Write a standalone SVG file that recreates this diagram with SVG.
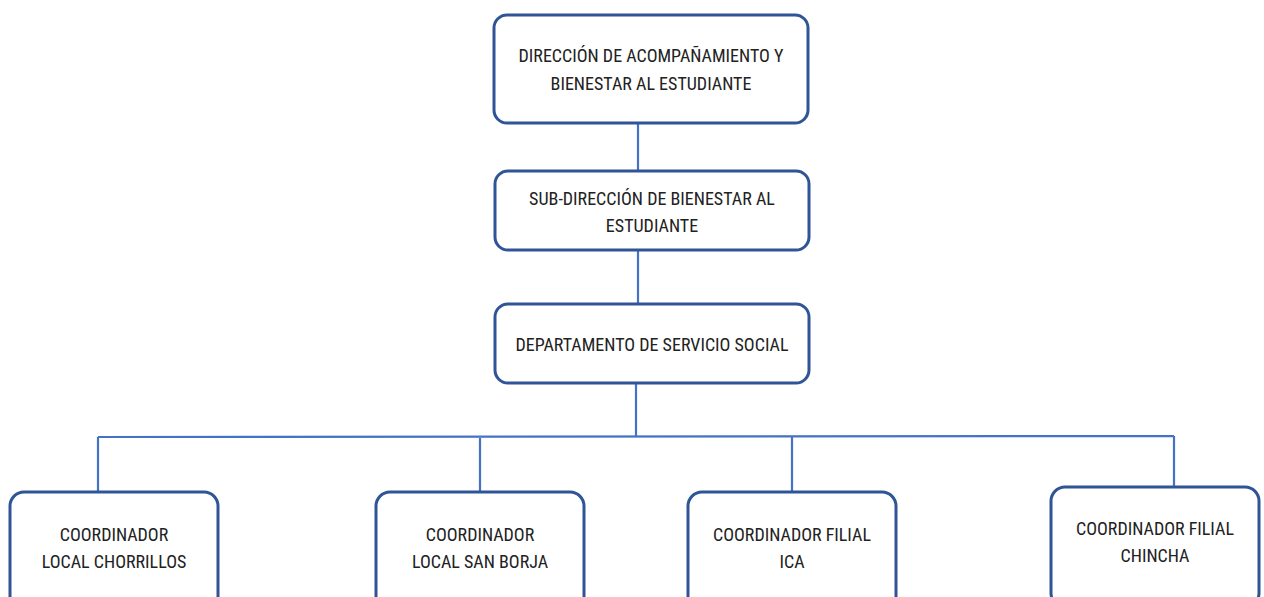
<svg xmlns="http://www.w3.org/2000/svg" width="1264" height="597" viewBox="0 0 1264 597">
<style>
.box{fill:#fff;stroke:#2f5597;stroke-width:3}
.ln{stroke:#4472c4;stroke-width:2.2;fill:none}
text{font-family:"Liberation Sans Narrow","Arial Narrow","Roboto Condensed","Liberation Sans",sans-serif;font-size:18px;fill:#222;text-anchor:middle}
</style>
<rect width="1264" height="597" fill="#fff"/>
<g id="connectors">
<path class="ln" d="M638 123V171M638 250V304M636 383V436M98 437L1174 436M98 437V492M480 437V492M792 436V492M1174 436V487"/>
</g>
<g id="n1"><rect class="box" x="494" y="15" width="314" height="108" rx="13"/>
<text x="651" y="62">DIRECCIÓN DE ACOMPAÑAMIENTO Y</text><text x="651" y="90">BIENESTAR AL ESTUDIANTE</text></g>
<g id="n2"><rect class="box" x="495" y="171" width="314" height="79" rx="13"/>
<text x="652" y="205">SUB-DIRECCIÓN DE BIENESTAR AL</text><text x="652" y="232">ESTUDIANTE</text></g>
<g id="n3"><rect class="box" x="495" y="304" width="314" height="79" rx="13"/>
<text x="652" y="351">DEPARTAMENTO DE SERVICIO SOCIAL</text></g>
<g id="n4"><rect class="box" x="10" y="492" width="208" height="120" rx="14"/>
<text x="114" y="541">COORDINADOR</text><text x="114" y="568">LOCAL CHORRILLOS</text></g>
<g id="n5"><rect class="box" x="376" y="492" width="208" height="120" rx="14"/>
<text x="480" y="541">COORDINADOR</text><text x="480" y="568">LOCAL SAN BORJA</text></g>
<g id="n6"><rect class="box" x="688" y="492" width="208" height="120" rx="14"/>
<text x="792" y="541">COORDINADOR FILIAL</text><text x="792" y="568">ICA</text></g>
<g id="n7"><rect class="box" x="1051" y="487" width="208" height="120" rx="14"/>
<text x="1155" y="535">COORDINADOR FILIAL</text><text x="1155" y="562">CHINCHA</text></g>
</svg>
